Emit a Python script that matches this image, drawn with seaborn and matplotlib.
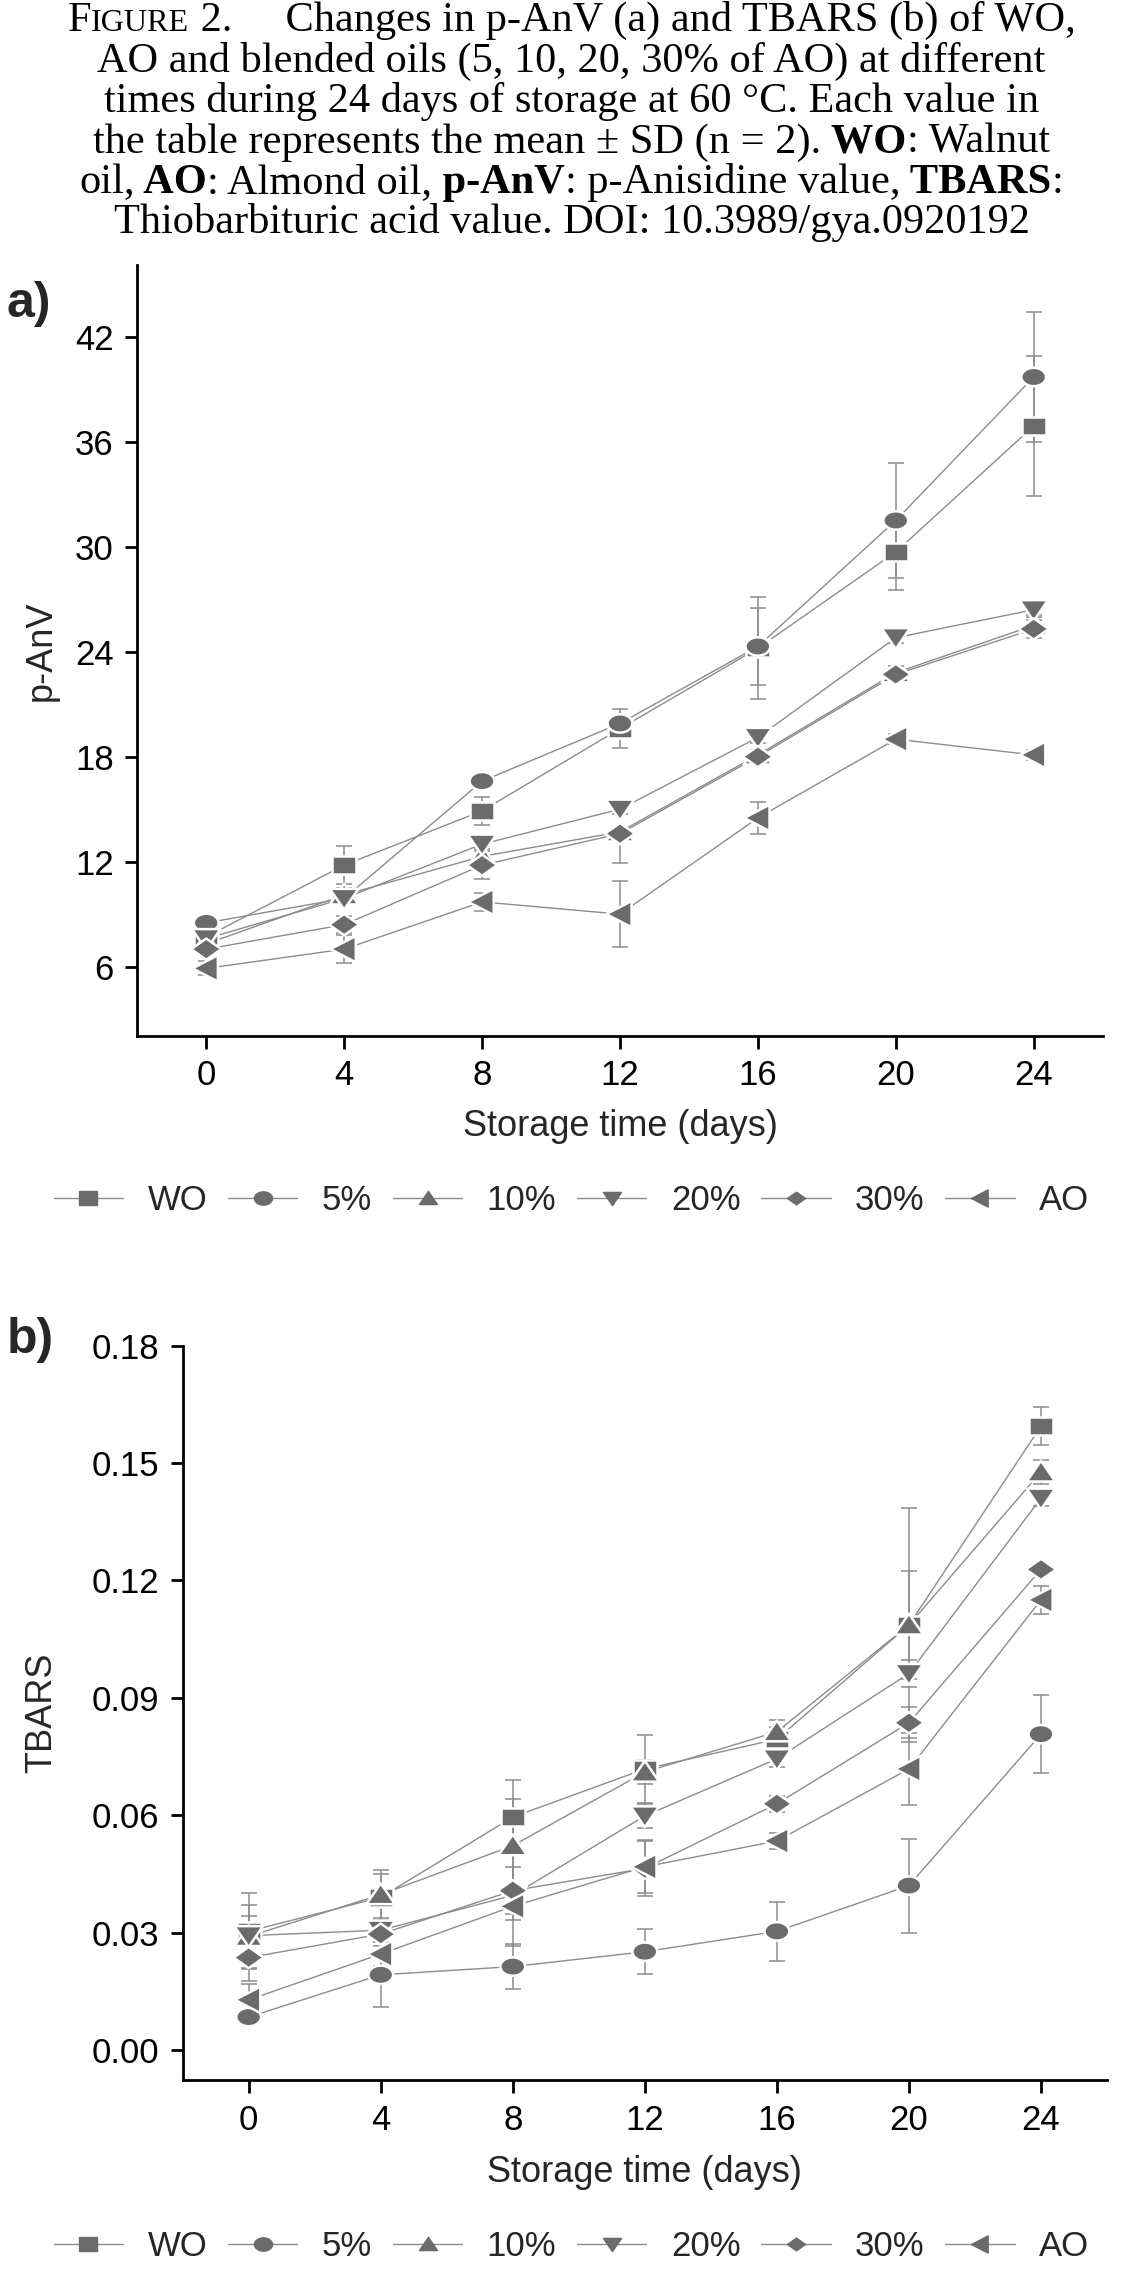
import numpy as np
import pandas as pd
import seaborn as sns
import matplotlib.pyplot as plt
from matplotlib.path import Path
from matplotlib.lines import Line2D
from matplotlib.ticker import FormatStrFormatter
from matplotlib.offsetbox import TextArea, HPacker, AnchoredOffsetbox

days = [0, 4, 8, 12, 16, 20, 24]
oils = ["WO", "5%", "10%", "20%", "30%", "AO"]

# panel a: p-AnV means
panv_wo = [7.7, 11.8, 14.9, 19.6, 24.2, 29.7, 36.9]
panv_5 = [8.5, 9.9, 16.6, 19.9, 24.3, 31.5, 39.7]
panv_10 = [7.3, 10.1, 12.3, 13.7, 18.1, 22.8, 25.5]
panv_20 = [7.6, 9.9, 13.0, 15.0, 19.1, 24.8, 26.4]
panv_30 = [7.0, 8.4, 11.8, 13.6, 18.0, 22.7, 25.3]
panv_ao = [5.9, 7.0, 9.7, 9.0, 14.5, 19.0, 18.1]

# panel a: SD
sd_panv_wo = [0.5, 1.1, 0.8, 1.1, 2.9, 2.2, 4.0]
sd_panv_5 = [0.4, 0.4, 0.4, 0.4, 2.2, 3.3, 3.7]
sd_panv_10 = [0.3, 0.4, 0.6, 1.8, 0.3, 0.4, 0.5]
sd_panv_20 = [0.3, 0.3, 0.3, 0.3, 0.3, 0.3, 0.3]
sd_panv_30 = [0.3, 0.5, 0.8, 0.3, 0.3, 0.3, 0.5]
sd_panv_ao = [0.4, 0.8, 0.5, 1.9, 0.9, 0.3, 0.3]

# panel b: TBARS means
tbars_wo = [0.0303, 0.0390, 0.0595, 0.0718, 0.0794, 0.1086, 0.1594]
tbars_5 = [0.0084, 0.0192, 0.0213, 0.0251, 0.0303, 0.0420, 0.0807]
tbars_10 = [0.0290, 0.0397, 0.0522, 0.0710, 0.0813, 0.1086, 0.1477]
tbars_20 = [0.0292, 0.0306, 0.0395, 0.0598, 0.0744, 0.0962, 0.1410]
tbars_30 = [0.0236, 0.0296, 0.0407, 0.0464, 0.0629, 0.0836, 0.1228]
tbars_ao = [0.0128, 0.0245, 0.0367, 0.0468, 0.0534, 0.0718, 0.1150]

# panel b: SD
sd_tbars_wo = [0.0097, 0.0060, 0.0095, 0.0088, 0.0030, 0.0300, 0.0048]
sd_tbars_5 = [0.0010, 0.0083, 0.0057, 0.0058, 0.0075, 0.0120, 0.0100]
sd_tbars_10 = [0.0080, 0.0064, 0.0120, 0.0030, 0.0030, 0.0137, 0.0030]
sd_tbars_20 = [0.0050, 0.0030, 0.0130, 0.0030, 0.0020, 0.0035, 0.0020]
sd_tbars_30 = [0.0060, 0.0030, 0.0060, 0.0070, 0.0020, 0.0040, 0.0010]
sd_tbars_ao = [0.0040, 0.0030, 0.0035, 0.0068, 0.0020, 0.0092, 0.0035]

panv = [panv_wo, panv_5, panv_10, panv_20, panv_30, panv_ao]
sd_panv = [sd_panv_wo, sd_panv_5, sd_panv_10, sd_panv_20, sd_panv_30, sd_panv_ao]
tbars = [tbars_wo, tbars_5, tbars_10, tbars_20, tbars_30, tbars_ao]
sd_tbars = [sd_tbars_wo, sd_tbars_5, sd_tbars_10, sd_tbars_20, sd_tbars_30, sd_tbars_ao]

MARK = "#6b6b6b"
LINE = "#8c8c8c"


def shape(verts, sx=1.15):
    # markers in the source are a bit wider than tall
    v = [(x * sx, y) for x, y in verts]
    return Path(v + [v[0]], closed=True)


theta = np.linspace(0, 2 * np.pi, 41)[:-1]
marker_shapes = {
    "WO": shape([(-1, -0.9), (1, -0.9), (1, 0.9), (-1, 0.9)]),
    "5%": shape(list(zip(np.cos(theta), 0.85 * np.sin(theta)))),
    "10%": shape([(-1.1, -0.85), (1.1, -0.85), (0, 1.0)]),
    "20%": shape([(-1.1, 0.85), (1.1, 0.85), (0, -1.0)]),
    "30%": shape([(-1.05, 0), (0, 0.85), (1.05, 0), (0, -0.85)]),
    "AO": shape([(0.85, -1.1), (0.85, 1.1), (-1.0, 0)]),
}
marker_area = {"WO": 290, "5%": 320, "10%": 420, "20%": 420, "30%": 470, "AO": 390}


def long_df(values):
    rows = []
    for oil, vals in zip(oils, values):
        for d, v in zip(days, vals):
            rows.append({"day": d, "value": v, "oil": oil})
    return pd.DataFrame(rows)


sns.set_style("ticks")
plt.rcParams["font.family"] = ["Liberation Sans", "DejaVu Sans"]

fig = plt.figure(figsize=(11.43, 22.71), dpi=100)
ax_a = fig.add_axes([0.1201, 0.5440, 0.8446, 0.3393])
ax_b = fig.add_axes([0.1598, 0.0839, 0.8087, 0.3236])


def draw_panel(ax, values, sds):
    df = long_df(values)
    for vals, sd in zip(values, sds):
        ax.errorbar(days, vals, yerr=sd, fmt="none", ecolor=LINE, elinewidth=1.1,
                    capsize=6, capthick=1.1, zorder=1)
    sns.lineplot(data=df, x="day", y="value", hue="oil",
                 palette={o: LINE for o in oils}, linewidth=1.0,
                 legend=False, ax=ax, zorder=2)
    sns.scatterplot(data=df, x="day", y="value", style="oil", markers=marker_shapes,
                    size="oil", sizes=marker_area, color=MARK, edgecolor="white",
                    linewidth=1.8, legend=False, ax=ax, zorder=3)
    ax.set_xlim(-2, 26)
    ax.set_xticks(days)
    sns.despine(ax=ax)
    for sp in ["left", "bottom"]:
        ax.spines[sp].set_linewidth(2)
        ax.spines[sp].set_color("black")
    ax.tick_params(axis="both", direction="out", length=9, width=2,
                   labelsize=25, pad=8, colors="black")
    ax.set_xlabel("Storage time (days)", fontsize=26)


draw_panel(ax_a, panv, sd_panv)
ax_a.set_ylim(2.06, 46.1)
ax_a.set_yticks(np.arange(6, 43, 6))
ax_a.set_ylabel("p-AnV", fontsize=26)
ax_a.yaxis.set_label_coords(-0.081, 0.5)
ax_a.xaxis.set_label_coords(0.5, -0.095)

draw_panel(ax_b, tbars, sd_tbars)
ax_b.set_ylim(-0.0078, 0.18)
ax_b.set_yticks(np.arange(0, 0.181, 0.03))
ax_b.yaxis.set_major_formatter(FormatStrFormatter("%.2f"))
ax_b.set_ylabel("TBARS", fontsize=26)
ax_b.yaxis.set_label_coords(-0.133, 0.5)
ax_b.xaxis.set_label_coords(0.5, -0.102)

fig.text(7 / 1143, 1 - 304 / 2271, "a)", fontsize=36, fontweight="bold", va="center", ha="left")
fig.text(7 / 1143, 1 - 1340 / 2271, "b)", fontsize=36, fontweight="bold", va="center", ha="left")

# legends under each panel
handles = [Line2D([0], [0], color=LINE, lw=1.0, marker=marker_shapes[o], markersize=13,
                  markerfacecolor=MARK, markeredgecolor=MARK) for o in oils]
for ycen in [1201, 2247]:
    fig.legend(handles, oils, loc="center", bbox_to_anchor=(0.5, 1 - ycen / 2271),
               ncol=6, frameon=False, fontsize=25, handlelength=2.0,
               handletextpad=0.7, columnspacing=0.6)

# caption
serif = ["Liberation Serif", "DejaVu Serif"]
TS = 30.5
title_lines = [
    [("F", "normal", 1.0), ("IGURE", "normal", 0.76),
     (" 2.     Changes in p-AnV (a) and TBARS (b) of WO,", "normal", 1.0)],
    [("AO and blended oils (5, 10, 20, 30% of AO) at different", "normal", 1.0)],
    [("times during 24 days of storage at 60 °C. Each value in", "normal", 1.0)],
    [("the table represents the mean ± SD (n = 2).", "normal", 1.0), (" WO", "bold", 1.0),
     (": Walnut", "normal", 1.0)],
    [("oil,", "normal", 1.0), (" AO", "bold", 1.0), (": Almond oil,", "normal", 1.0),
     (" p-AnV", "bold", 1.0), (": p-Anisidine value,", "normal", 1.0),
     (" TBARS", "bold", 1.0), (":", "normal", 1.0)],
    [("Thiobarbituric acid value. DOI: 10.3989/gya.0920192", "normal", 1.0)],
]
for i, parts in enumerate(title_lines):
    kids = [TextArea(t, textprops=dict(family=serif, fontweight=w, fontsize=TS * f, color="black"))
            for t, w, f in parts]
    row = HPacker(children=kids, align="baseline", pad=0, sep=0)
    ycen = 20.5 + 40.5 * i
    box = AnchoredOffsetbox(loc="center", child=row, pad=0, borderpad=0, frameon=False,
                            bbox_to_anchor=(0.5, 1 - ycen / 2271),
                            bbox_transform=fig.transFigure)
    fig.add_artist(box)

fig.savefig("out.png", dpi=100)
